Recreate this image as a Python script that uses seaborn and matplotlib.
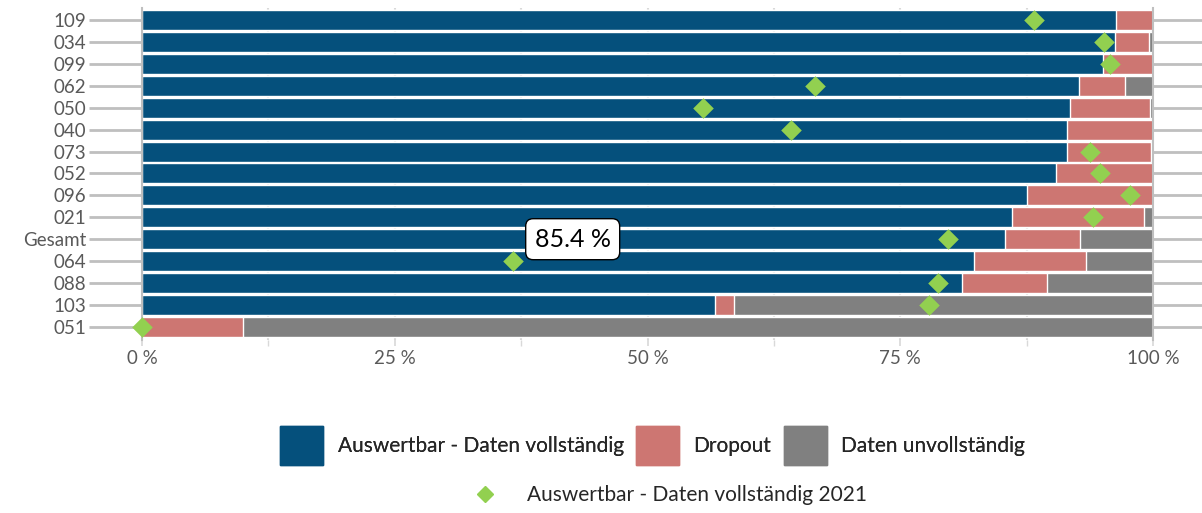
import matplotlib
matplotlib.use("Agg")
import matplotlib.pyplot as plt
import numpy as np
import pandas as pd
import seaborn as sns
from matplotlib.patches import Patch
from matplotlib.lines import Line2D

# data (percent)
categories = ["109", "034", "099", "062", "050", "040", "073", "052", "096", "021",
              "Gesamt", "064", "088", "103", "051"]
complete = [96.3, 96.2, 95.1, 92.7, 91.8, 91.5, 91.5, 90.4, 87.5, 86.1,
            85.4, 82.3, 81.1, 56.7, 0.0]
dropout = [3.7, 3.4, 4.9, 4.5, 7.9, 8.5, 8.3, 9.6, 12.5, 13.0,
           7.4, 11.1, 8.4, 1.9, 10.0]
incomplete = [0.0, 0.4, 0.0, 2.8, 0.3, 0.0, 0.2, 0.0, 0.0, 0.9,
              7.2, 6.6, 10.5, 41.4, 90.0]
complete_2021 = [88.2, 95.2, 95.7, 66.6, 55.5, 64.2, 93.8, 94.8, 97.7, 94.1,
                 79.7, 36.7, 78.7, 77.8, 0.0]

BLUE = "#05507c"
RED = "#cd7672"
GRAY = "#808080"
GREEN = "#92d050"
LINE = "#bfbfbf"
TXT = "#595959"

df = pd.DataFrame({"cat": categories, "complete": complete, "dropout": dropout,
                   "incomplete": incomplete, "y2021": complete_2021})
df["c1"] = df["complete"]
df["c2"] = df["complete"] + df["dropout"]
df["c3"] = df["c2"] + df["incomplete"]

sns.set_theme(style="white")
plt.rcParams["font.family"] = ["Lato", "DejaVu Sans"]

fig = plt.figure(figsize=(12.02, 5.13), dpi=100)
ax = fig.add_axes([142 / 1202, 1 - 340 / 513, (1153 - 142) / 1202, 332 / 513])

# stacked bars via overlapping cumulative totals
sns.barplot(data=df, x="c3", y="cat", orient="h", color=GRAY, width=0.91,
            saturation=1, ax=ax, zorder=2)
sns.barplot(data=df, x="c2", y="cat", orient="h", color=RED, width=0.91,
            saturation=1, ax=ax, zorder=2)
sns.barplot(data=df, x="c1", y="cat", orient="h", color=BLUE, width=0.91,
            saturation=1, ax=ax, zorder=2)
sns.scatterplot(data=df, x="y2021", y="cat", marker="D", s=110, color=GREEN,
                edgecolor=GREEN, linewidth=0, ax=ax, zorder=4, clip_on=False)

ax.set_xlim(0, 100)
ax.set_ylim(len(categories) - 1 + 0.6, -0.55)
ax.set_xlabel("")
ax.set_ylabel("")

ax.set_xticks([0, 25, 50, 75, 100])
ax.set_xticklabels([f"{v} %" for v in [0, 25, 50, 75, 100]])
ax.set_xticks([12.5, 37.5, 62.5, 87.5], minor=True)
ax.grid(axis="x", which="both", color="#d9d9d9", linewidth=1.5, zorder=0)
ax.set_axisbelow(True)

ax.tick_params(axis="x", which="both", bottom=True, length=4, color="#d9d9d9",
               labelsize=13.5, labelcolor=TXT, pad=3)
ax.tick_params(axis="y", left=True, right=True, length=38, width=2,
               color=LINE, labelsize=13.5, labelcolor=TXT, pad=2)

for s in ["top", "bottom"]:
    ax.spines[s].set_visible(False)
for s in ["left", "right"]:
    ax.spines[s].set_color(LINE)
    ax.spines[s].set_linewidth(1.5)

gi = categories.index("Gesamt")
ax.text(42.6, gi, f"{complete[gi]:.1f} %", ha="center", va="center", fontsize=18,
        color="black", zorder=6,
        bbox=dict(boxstyle="round,pad=0.36,rounding_size=0.3", fc="white",
                  ec="black", lw=1))

h1 = [Patch(color=BLUE, label="Auswertbar - Daten vollständig"),
      Patch(color=RED, label="Dropout"),
      Patch(color=GRAY, label="Daten unvollständig")]
leg1 = fig.legend(handles=h1, loc="center", bbox_to_anchor=(0.543, 0.132), ncol=3,
                  frameon=False, fontsize=15, handlelength=2.05, handleheight=2.5,
                  handletextpad=0.7, columnspacing=0.6)
h2 = [Line2D([], [], marker="D", linestyle="none", color=GREEN, markersize=8,
             label="Auswertbar - Daten vollständig 2021")]
fig.legend(handles=h2, loc="center", bbox_to_anchor=(0.554, 0.035), frameon=False,
           fontsize=15, handletextpad=1.0)
fig.add_artist(leg1)

fig.savefig("out.png", dpi=100)
